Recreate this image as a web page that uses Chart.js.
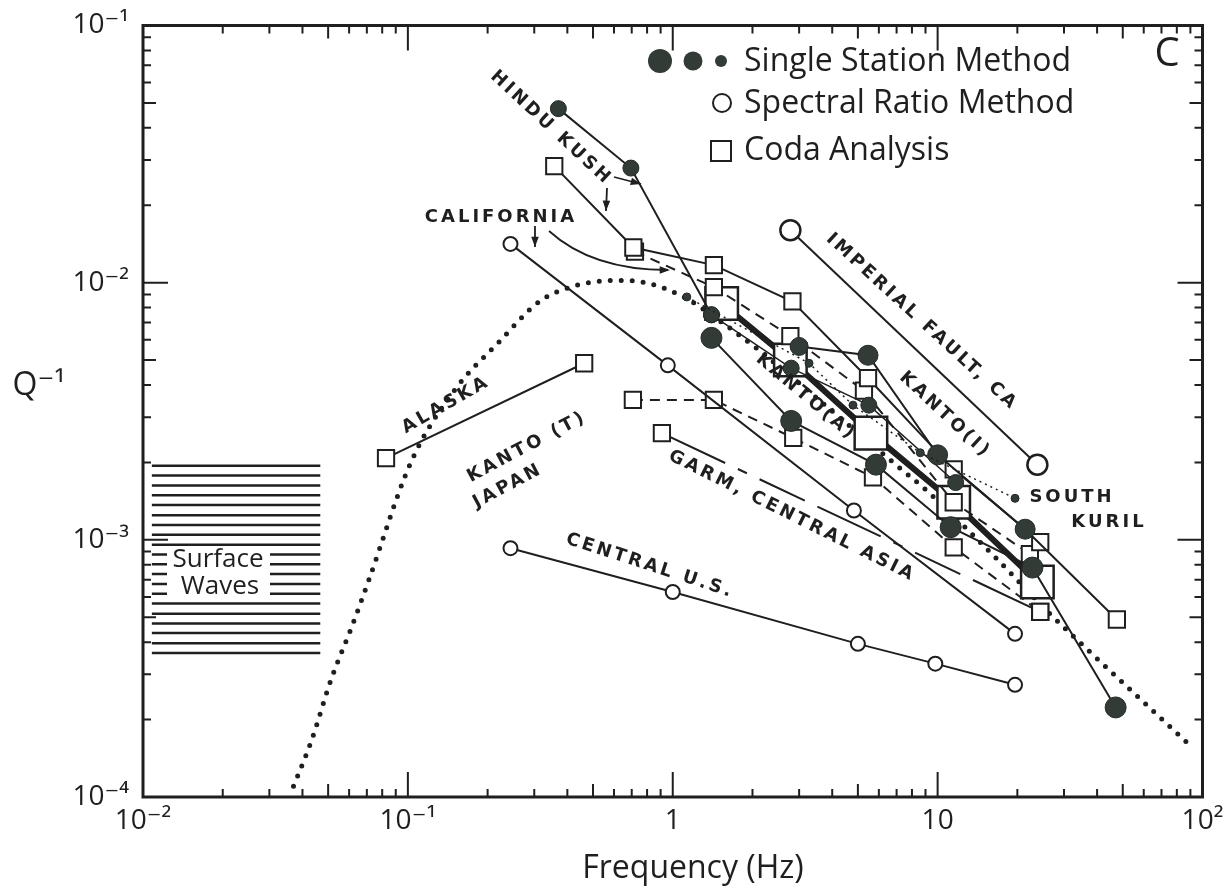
<!DOCTYPE html>
<html>
<head>
<meta charset="utf-8">
<title>Q⁻¹ versus frequency</title>
<script src="https://cdn.jsdelivr.net/npm/chart.js@4.4.1/dist/chart.umd.min.js"></script>
<style>
html,body{margin:0;padding:0;background:#ffffff;}
canvas{display:block;}
</style>
</head>
<body>
<canvas id="chart" width="1228" height="896"></canvas>
<script>
// ---------------- data (frequency in Hz, Q^-1) ----------------
const xMajorTicks = [0.01, 0.1, 1, 10, 100];
const xMajorLabels = ['10⁻²', '10⁻¹', '1', '10', '10²'];
const yMajorTicks = [0.0001, 0.001, 0.01, 0.1];
const yMajorLabels = ['10⁻⁴', '10⁻³', '10⁻²', '10⁻¹'];
const minorMultipliers = [2, 3, 4, 5, 6, 7, 8, 9];

const hinduKushSSFreq = [0.37, 0.695, 1.4];
const hinduKushSSQ = [0.0475, 0.0279, 0.0075];
const hinduKushCodaFreq = [0.357, 0.71, 1.43, 2.83, 5.46, 11.5, 24.4];
const hinduKushCodaQ = [0.0284, 0.0137, 0.0117, 0.00845, 0.00425, 0.00188, 0.00098];
const californiaCodaFreq = [0.72, 1.43, 2.78, 5.27, 11.5, 22.3];
const californiaCodaQ = [0.0132, 0.0096, 0.0062, 0.0038, 0.0014, 0.00088];
const californiaSRFreq = [0.244, 0.958, 4.83, 19.6];
const californiaSRQ = [0.01415, 0.00477, 0.0013, 0.000431];
const kantoTCodaFreq = [0.707, 1.43, 2.85, 5.7, 11.5, 24.4];
const kantoTCodaQ = [0.0035, 0.0035, 0.00249, 0.00175, 0.000935, 0.000525];
const garmFreq = [0.91, 24.4];
const garmQ = [0.0026, 0.000525];
const centralUSFreq = [0.244, 1.0, 5.0, 9.8, 19.6];
const centralUSQ = [0.000928, 0.000627, 0.000394, 0.00033, 0.000273];
const imperialFaultFreq = [2.78, 23.8];
const imperialFaultQ = [0.016, 0.00196];
const alaskaFreq = [0.0827, 0.463];
const alaskaQ = [0.00208, 0.00486];
const kantoIFreq = [3.0, 5.46, 10.0, 21.4, 47.5];
const kantoIQ = [0.00565, 0.00522, 0.00214, 0.0011, 0.00049];
const ssLargeFreq = [1.4, 2.8, 5.85, 11.2, 22.8, 47];
const ssLargeQ = [0.0061, 0.0029, 0.00196, 0.00112, 0.00078, 0.000223];
const ssMediumFreq = [1.4, 2.8, 5.5, 11.7];
const ssMediumQ = [0.0075, 0.00465, 0.00334, 0.00167];
const southKurilFreq = [1.13, 3.27, 4.79, 8.6, 19.6];
const southKurilQ = [0.0088, 0.00486, 0.00334, 0.00218, 0.00145];
const kantoACodaFreq = [1.53, 2.78, 5.6, 11.5, 23.8];
const kantoACodaQ = [0.0083, 0.005, 0.0026, 0.0014, 0.000686];
const modelFreq = [0.037, 0.0432, 0.0514, 0.061, 0.0708, 0.1026, 0.15, 0.218, 0.316, 0.425, 0.518, 0.654, 0.82, 1.1, 1.46, 2.07, 4.51, 6.95, 9.25, 16.5, 26.1, 39.3, 87.9];
const modelQ = [0.00011, 0.000165, 0.000288, 0.000451, 0.000686, 0.002, 0.00382, 0.0058, 0.0085, 0.0097, 0.0101, 0.0102, 0.0099, 0.0088, 0.00726, 0.00556, 0.00285, 0.00196, 0.00153, 0.000855, 0.000525, 0.000351, 0.000162];
const surfaceWaveFreq = [0.0108, 0.0467];
const surfaceWaveQ = [0.00194, 0.001778, 0.001626, 0.001489, 0.001365, 0.001247, 0.001143, 0.001047, 0.000957, 0.000877, 0.000804, 0.000736, 0.000673, 0.000617, 0.000565, 0.000516, 0.000473, 0.000434, 0.000396, 0.000363];

// ---------------- styling ----------------
const INK = '#1f1f1f';
const FILL = '#323b36';
const FONT = '"Open Sans", "DejaVu Sans", sans-serif';
const LABEL_FONT = '"DejaVu Sans", sans-serif';

function pts(f, q) { return f.map((v, i) => ({ x: v, y: q[i] })); }
function ds(label, f, q, o) {
  return Object.assign({
    label: label, data: pts(f, q), showLine: true, fill: false, tension: 0,
    borderColor: INK, borderWidth: 2,
    pointStyle: 'circle', pointRadius: 7, pointBorderWidth: 2,
    pointBorderColor: INK, pointBackgroundColor: '#ffffff'
  }, o || {});
}
const filled = { pointBackgroundColor: FILL, pointBorderColor: '#222a26', pointBorderWidth: 1 };
const square = { pointStyle: 'rect', pointRadius: 11.5, pointBackgroundColor: '#ffffff' };

const datasets = [
  ds('South Kuril', southKurilFreq, southKurilQ, Object.assign({}, filled, { pointRadius: 4, borderWidth: 1.5, borderDash: [2, 4] })),
  ds('Hindu Kush (single station)', hinduKushSSFreq, hinduKushSSQ, Object.assign({}, filled, { pointRadius: 8 })),
  ds('Kanto (I)', kantoIFreq, kantoIQ, Object.assign({}, filled, {
    pointStyle: ['circle', 'circle', 'circle', 'circle', 'rect'],
    pointRadius: [9, 10, 10, 10, 11.5],
    pointBackgroundColor: [FILL, FILL, FILL, FILL, '#ffffff'],
    pointBorderColor: ['#222a26', '#222a26', '#222a26', '#222a26', INK],
    pointBorderWidth: [1, 1, 1, 1, 2]
  })),
  ds('Single station (large)', ssLargeFreq, ssLargeQ, Object.assign({}, filled, { pointRadius: 10.5 })),
  ds('Single station (medium)', ssMediumFreq, ssMediumQ, Object.assign({}, filled, { pointRadius: 8, borderWidth: 1.5 })),
  ds('Imperial Fault, CA', imperialFaultFreq, imperialFaultQ, { pointRadius: 10, pointBorderWidth: 2.5 }),
  ds('Central U.S.', centralUSFreq, centralUSQ, {}),
  ds('California (spectral ratio)', californiaSRFreq, californiaSRQ, {}),
  ds('Alaska', alaskaFreq, alaskaQ, square),
  ds('Hindu Kush (coda)', hinduKushCodaFreq, hinduKushCodaQ, square),
  ds('California (coda)', californiaCodaFreq, californiaCodaQ, Object.assign({}, square, { borderDash: [10, 7] })),
  ds('Kanto (T), Japan', kantoTCodaFreq, kantoTCodaQ, Object.assign({}, square, { borderDash: [10, 7] })),
  ds('Garm, Central Asia', garmFreq, garmQ, Object.assign({}, square, { borderDash: [70, 14, 10, 14, 50, 14] })),
  ds('Kanto (A)', kantoACodaFreq, kantoACodaQ, Object.assign({}, square, { pointRadius: 23, borderWidth: 6, pointBorderWidth: 2.5 })),
  ds('Model', modelFreq, modelQ, { pointRadius: 0, borderWidth: 5, borderDash: [0, 11], borderCapStyle: 'round', cubicInterpolationMode: 'monotone' })
].concat(surfaceWaveQ.map(q => ds('Surface waves', surfaceWaveFreq, [q, q], { pointRadius: 0, borderWidth: 2.5 })));

// ---------------- annotations ----------------
const textLabels = [
  { t: 'HINDU KUSH', x: 551, y: 128, a: 43 },
  { t: 'CALIFORNIA', x: 501, y: 217, a: 0 },
  { t: 'IMPERIAL FAULT, CA', x: 922, y: 322, a: 42.5 },
  { t: 'KANTO(I)', x: 945, y: 415, a: 43 },
  { t: 'KANTO(A)', x: 806, y: 397, a: 40 },
  { t: 'KANTO (T)', x: 527, y: 447, a: -28 },
  { t: 'JAPAN', x: 508, y: 486, a: -28 },
  { t: 'ALASKA', x: 446, y: 405, a: -30 },
  { t: 'GARM, CENTRAL ASIA', x: 792, y: 516, a: 26.5 },
  { t: 'CENTRAL U.S.', x: 650, y: 566, a: 18 },
  { t: 'SOUTH', x: 1072, y: 497, a: 0 },
  { t: 'KURIL', x: 1109, y: 522, a: 0 }
];

function arrowHead(ctx, x, y, ang) {
  ctx.beginPath();
  ctx.moveTo(x, y);
  ctx.lineTo(x - 11 * Math.cos(ang - 0.35), y - 11 * Math.sin(ang - 0.35));
  ctx.lineTo(x - 11 * Math.cos(ang + 0.35), y - 11 * Math.sin(ang + 0.35));
  ctx.closePath();
  ctx.fill();
}
function straightArrow(ctx, x1, y1, x2, y2) {
  ctx.beginPath(); ctx.moveTo(x1, y1); ctx.lineTo(x2, y2); ctx.stroke();
  arrowHead(ctx, x2, y2, Math.atan2(y2 - y1, x2 - x1));
}

const decor = {
  id: 'decor',
  afterDatasetsDraw(chart) {
    const ctx = chart.ctx;
    ctx.save();
    // "Surface Waves" text over the hatched band
    ctx.fillStyle = '#ffffff';
    ctx.fillRect(167, 547, 103, 51);
    ctx.fillStyle = INK;
    ctx.font = '26px ' + FONT;
    ctx.textAlign = 'center';
    ctx.textBaseline = 'middle';
    ctx.fillText('Surface', 218, 560);
    ctx.fillText('Waves', 220, 587);
    ctx.restore();
  },
  afterDraw(chart) {
    const ctx = chart.ctx, a = chart.chartArea;
    const xs = chart.scales.x, ys = chart.scales.y;
    ctx.save();
    ctx.strokeStyle = INK;
    ctx.fillStyle = INK;
    ctx.lineCap = 'butt';

    // inward ticks on all four sides
    ctx.lineWidth = 2;
    const tickSet = (majors) => {
      const out = [];
      majors.forEach((d, i) => {
        out.push({ v: d, len: 25 });
        if (i < majors.length - 1) minorMultipliers.forEach(m => out.push({ v: d * m, len: m === 5 ? 13 : 8 }));
      });
      return out;
    };
    tickSet(xMajorTicks).forEach(t => {
      const p = xs.getPixelForValue(t.v);
      ctx.beginPath();
      ctx.moveTo(p, a.bottom); ctx.lineTo(p, a.bottom - t.len);
      ctx.moveTo(p, a.top); ctx.lineTo(p, a.top + t.len);
      ctx.stroke();
    });
    tickSet(yMajorTicks).forEach(t => {
      const p = ys.getPixelForValue(t.v);
      ctx.beginPath();
      ctx.moveTo(a.left, p); ctx.lineTo(a.left + t.len, p);
      ctx.moveTo(a.right, p); ctx.lineTo(a.right - t.len, p);
      ctx.stroke();
    });
    // frame
    ctx.lineWidth = 3;
    ctx.strokeRect(a.left, a.top, a.right - a.left, a.bottom - a.top);

    // region labels
    ctx.font = 'bold 18px ' + LABEL_FONT;
    ctx.letterSpacing = '3px';
    ctx.textAlign = 'center';
    ctx.textBaseline = 'middle';
    textLabels.forEach(l => {
      ctx.save();
      ctx.translate(l.x, l.y);
      ctx.rotate(l.a * Math.PI / 180);
      ctx.fillText(l.t, 0, 0);
      ctx.restore();
    });
    ctx.letterSpacing = '0px';

    // arrows
    ctx.lineWidth = 1.8;
    straightArrow(ctx, 614, 177, 641, 184);
    straightArrow(ctx, 607, 188, 606, 211);
    straightArrow(ctx, 535, 226, 535, 247);
    ctx.beginPath();
    ctx.moveTo(549, 231);
    ctx.quadraticCurveTo(592, 270, 668, 270);
    ctx.stroke();
    arrowHead(ctx, 670, 270, 0);

    // legend
    const legendDot = (x, y, r) => {
      ctx.beginPath(); ctx.arc(x, y, r, 0, Math.PI * 2);
      ctx.fillStyle = FILL; ctx.fill();
    };
    legendDot(660, 61, 12); legendDot(693, 61, 9.5); legendDot(721, 61, 6);
    ctx.lineWidth = 2;
    ctx.beginPath(); ctx.arc(722, 103, 9, 0, Math.PI * 2);
    ctx.fillStyle = '#ffffff'; ctx.fill(); ctx.stroke();
    ctx.strokeRect(711, 141, 20, 20);
    ctx.fillStyle = INK;
    ctx.font = '32px ' + FONT;
    ctx.textAlign = 'left';
    ctx.fillText('Single Station Method', 744, 62);
    ctx.fillText('Spectral Ratio Method', 744, 104);
    ctx.fillText('Coda Analysis', 744, 151);

    // panel letter
    ctx.font = '40px ' + FONT;
    ctx.textAlign = 'center';
    ctx.fillText('C', 1167, 55);

    // axis titles
    ctx.font = '32px ' + FONT;
    ctx.fillText('Frequency (Hz)', 693, 869);
    ctx.fillText('Q⁻¹', 39, 386);
    ctx.restore();
  }
};

Chart.defaults.font.family = FONT;
new Chart(document.getElementById('chart'), {
  type: 'scatter',
  data: { datasets: datasets },
  options: {
    responsive: false,
    animation: false,
    events: [],
    layout: { padding: { left: 0, right: 20, top: 23, bottom: 0 } },
    plugins: { legend: { display: false }, tooltip: { enabled: false }, title: { display: false } },
    scales: {
      x: {
        type: 'logarithmic', position: 'bottom', min: 0.01, max: 100,
        grid: { display: false, drawTicks: false }, border: { display: false },
        afterBuildTicks: s => {
          const v = [];
          xMajorTicks.forEach((d, i) => { v.push(d); if (i < xMajorTicks.length - 1) minorMultipliers.forEach(m => v.push(d * m)); });
          s.ticks = v.map(x => ({ value: x }));
        },
        afterFit: s => { s.height = 99; s.paddingLeft = 0; s.paddingRight = 0; },
        ticks: {
          autoSkip: false, maxRotation: 0, minRotation: 0, padding: 7, color: INK,
          font: { family: FONT, size: 28 },
          callback: v => { const i = xMajorTicks.findIndex(m => Math.abs(m - v) / m < 1e-6); return i >= 0 ? xMajorLabels[i] : ''; }
        }
      },
      y: {
        type: 'logarithmic', position: 'left', min: 0.0001, max: 0.1,
        grid: { display: false, drawTicks: false }, border: { display: false },
        afterBuildTicks: s => {
          const v = [];
          yMajorTicks.forEach((d, i) => { v.push(d); if (i < yMajorTicks.length - 1) minorMultipliers.forEach(m => v.push(d * m)); });
          s.ticks = v.map(x => ({ value: x }));
        },
        afterFit: s => { s.width = 143; s.paddingTop = 0; s.paddingBottom = 0; },
        ticks: {
          autoSkip: false, padding: 14, color: INK,
          font: { family: FONT, size: 28 },
          callback: v => { const i = yMajorTicks.findIndex(m => Math.abs(m - v) / m < 1e-6); return i >= 0 ? yMajorLabels[i] : ''; }
        }
      }
    }
  },
  plugins: [decor]
});
</script>
</body>
</html>
